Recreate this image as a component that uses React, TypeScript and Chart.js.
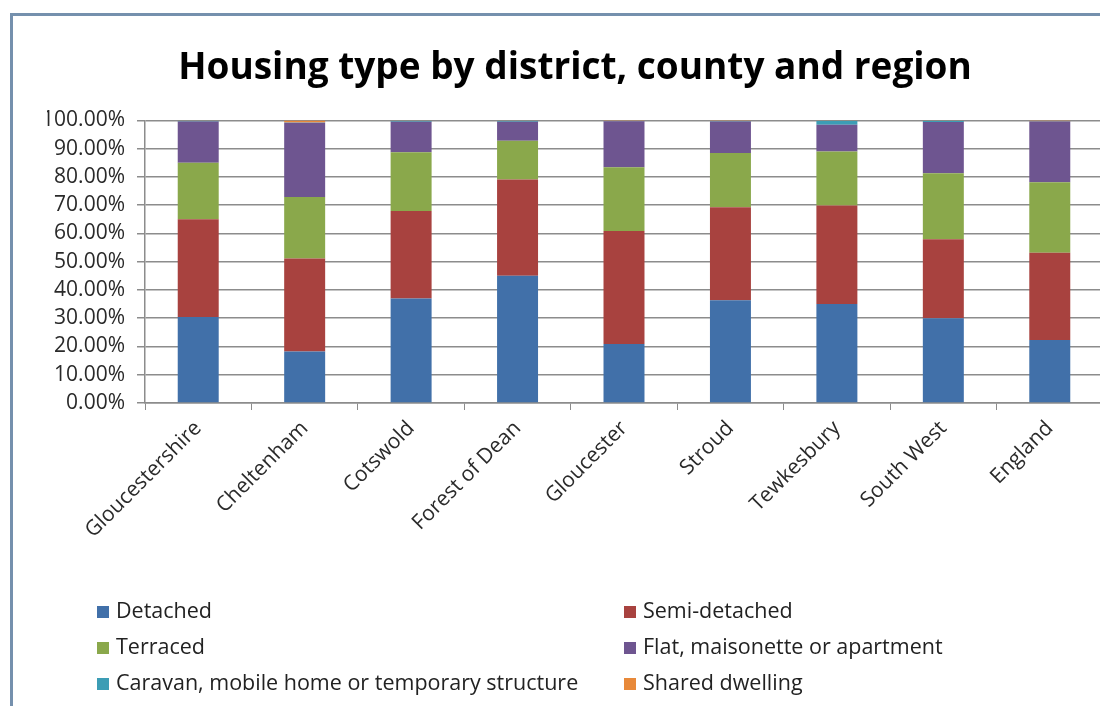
import React, { useEffect, useRef } from "react";
import { Chart, registerables } from "chart.js";

Chart.register(...registerables);

const categories = [
  "Gloucestershire",
  "Cheltenham",
  "Cotswold",
  "Forest of Dean",
  "Gloucester",
  "Stroud",
  "Tewkesbury",
  "South West",
  "England",
];

const detached = [30.4, 18.2, 37.0, 45.0, 20.9, 36.4, 35.0, 30.0, 22.3];
const semiDetached = [34.6, 32.9, 30.9, 34.1, 40.0, 32.9, 34.9, 27.9, 30.9];
const terraced = [20.0, 21.8, 20.8, 13.7, 22.5, 19.2, 19.1, 23.4, 24.9];
const flat = [14.6, 26.3, 10.8, 6.7, 16.3, 11.1, 9.5, 18.1, 21.5];
const caravan = [0.3, 0.1, 0.4, 0.4, 0.1, 0.2, 1.4, 0.5, 0.1];
const shared = [0.1, 0.7, 0.1, 0.1, 0.2, 0.2, 0.1, 0.1, 0.3];

const seriesNames = [
  "Detached",
  "Semi-detached",
  "Terraced",
  "Flat, maisonette or apartment",
  "Caravan, mobile home or temporary structure",
  "Shared dwelling",
];
const seriesValues = [detached, semiDetached, terraced, flat, caravan, shared];
const seriesColors = ["#4170A9", "#A8423F", "#8AA84B", "#6E5590", "#3C9DB5", "#E8893A"];

const yTicks = [0, 10, 20, 30, 40, 50, 60, 70, 80, 90, 100];
const titleText = "Housing type by district, county and region";

const FONT = "'Open Sans', Lato, sans-serif";

const framePlugin = {
  id: "frame",
  beforeDraw(chart: any) {
    const ctx = chart.ctx;
    ctx.save();
    ctx.fillStyle = "#ffffff";
    ctx.fillRect(0, 0, chart.width, chart.height);
    ctx.strokeStyle = "#7590AD";
    ctx.lineWidth = 3;
    ctx.strokeRect(11.5, 14.5, chart.width + 50, chart.height + 50);
    ctx.restore();
  },
};

const legendPlugin = {
  id: "customLegend",
  afterDraw(chart: any) {
    const ctx = chart.ctx;
    ctx.save();
    ctx.font = `21.5px ${FONT}`;
    ctx.textBaseline = "middle";
    ctx.textAlign = "left";
    chart.data.datasets.forEach((ds: any, i: number) => {
      const col = i % 2;
      const row = Math.floor(i / 2);
      const x = col === 0 ? 97 : 624;
      const y = 612 + row * 36;
      ctx.fillStyle = ds.backgroundColor;
      ctx.fillRect(x, y - 6, 12, 12);
      ctx.fillStyle = "#222222";
      ctx.fillText(ds.label, x + 19, y);
    });
    ctx.restore();
  },
};

export default function App() {
  const canvasRef = useRef<HTMLCanvasElement | null>(null);

  useEffect(() => {
    if (!canvasRef.current) return;
    const chart = new Chart(canvasRef.current, {
      type: "bar",
      data: {
        labels: categories,
        datasets: seriesNames.map((name, i) => ({
          label: name,
          data: seriesValues[i],
          backgroundColor: seriesColors[i],
          borderWidth: 0,
          categoryPercentage: 1,
          barPercentage: 0.385,
        })),
      },
      options: {
        animation: false,
        responsive: false,
        maintainAspectRatio: false,
        layout: { padding: { left: 47, right: 7, top: 46, bottom: 153 } },
        plugins: {
          legend: { display: false },
          tooltip: { enabled: false },
          title: {
            display: true,
            text: titleText,
            color: "#000000",
            font: { family: FONT, size: 37, weight: "bold", lineHeight: 1.2 },
            padding: { top: 0, bottom: 30 },
          },
        },
        scales: {
          x: {
            stacked: true,
            offset: true,
            grid: {
              display: true,
              drawOnChartArea: false,
              drawTicks: true,
              tickLength: 7,
              offset: true,
              color: "#8c8c8c",
            },
            border: { display: true, color: "#8c8c8c", width: 1.5 },
            ticks: {
              color: "#2a2a2a",
              font: { family: FONT, size: 21 },
              maxRotation: 45,
              minRotation: 45,
              autoSkip: false,
              padding: 6,
            },
            afterFit(scale: any) {
              scale.height = 150;
            },
          },
          y: {
            stacked: true,
            min: 0,
            max: 100,
            afterBuildTicks(scale: any) {
              scale.ticks = yTicks.map((v) => ({ value: v }));
            },
            grid: {
              color: "#8c8c8c",
              lineWidth: 1.5,
              tickLength: 8,
            },
            border: { display: true, color: "#8c8c8c", width: 1.5 },
            ticks: {
              color: "#2a2a2a",
              font: { family: FONT, size: 21 },
              padding: 12,
              callback: (v: any) => Number(v).toFixed(2) + "%",
            },
            afterFit(scale: any) {
              scale.width = 98;
            },
          },
        },
      },
      plugins: [framePlugin, legendPlugin],
    });
    return () => chart.destroy();
  }, []);

  return (
    <div
      style={{
        position: "fixed",
        left: 0,
        top: 0,
        width: 1100,
        height: 706,
        overflow: "hidden",
        background: "#ffffff",
      }}
    >
      <canvas ref={canvasRef} width={1110} height={706} style={{ width: 1110, height: 706, display: "block" }} />
    </div>
  );
}
